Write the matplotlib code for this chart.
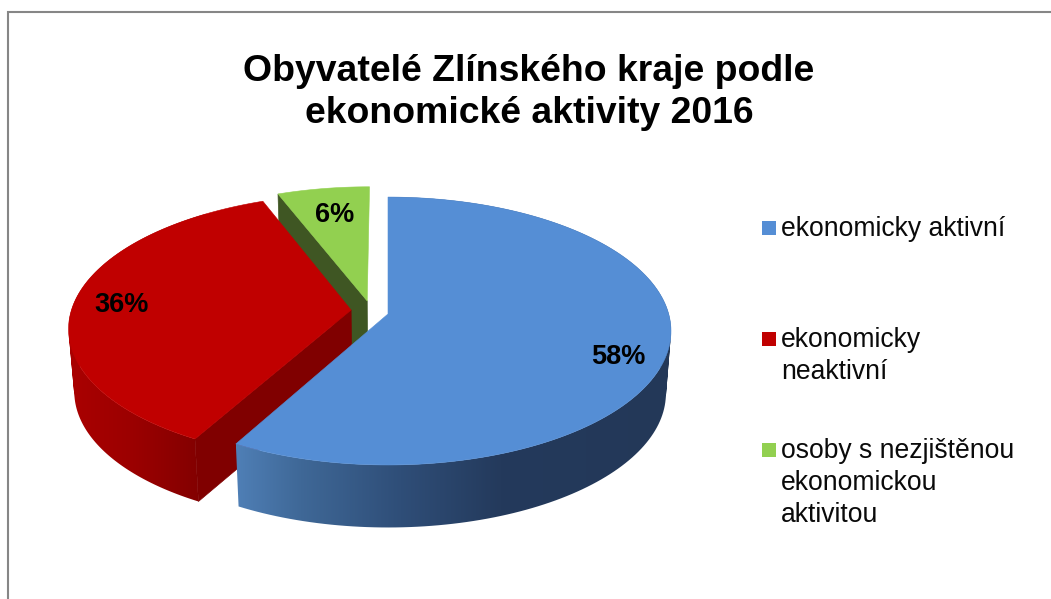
import numpy as np
import matplotlib
matplotlib.use("Agg")
import matplotlib.pyplot as plt
from matplotlib.patches import Polygon, Rectangle, PathPatch
from matplotlib.path import Path
from matplotlib.colors import LinearSegmentedColormap

title = "Obyvatelé Zlínského kraje podle\nekonomické aktivity 2016"
categories = ["ekonomicky aktivní", "ekonomicky\nneaktivní", "osoby s nezjištěnou\nekonomickou\naktivitou"]
values = [58, 36, 6]
value_labels = ["58%", "36%", "6%"]

top_colors = ["#558ed5", "#c00000", "#92d050"]
inner_colors = ["#243a5c", "#800000", "#3f5623"]
# the outer wall of the green slice faces away from the viewer, so it has no stops
side_stops = [
    [(236, "#4f7fb6"), (300, "#3f6897"), (400, "#2f4e78"), (500, "#243a5c"), (671, "#233858")],
    [(69, "#aa0000"), (130, "#9c0000"), (196, "#840000"), (205, "#840000")],
    None,
]
explode = [(0.0, 0.0), (-0.132, 0.03), (-0.075, 0.1)]
label_xy = [(618, 357), (122, 305), (335, 215)]
legend_y = [228, 339, 450]

CX, CY, A, B, K = 388.0, 314.0, 280.7, 131.8, 0.127
DEPTH, SHRINK = 62.5, 0.982

fig = plt.figure(figsize=(10.51, 5.99), dpi=100, facecolor="white")
ax = fig.add_axes([0, 0, 1, 1])
ax.axis("off")
plt.rcParams["font.family"] = ["Liberation Sans"]


def project(u, v):
    d = 1 + K * v
    return CX + A * u / d, CY - B * v / d


def lower(pts):
    pts = np.asarray(pts, float)
    return np.column_stack([CX + (pts[:, 0] - CX) * SHRINK, pts[:, 1] + DEPTH])


def swept_side(rim):
    """Union of the little side quads, all wound the same way."""
    low = lower(rim)
    verts, codes = [], []
    for j in range(len(rim) - 1):
        q = np.array([rim[j], rim[j + 1], low[j + 1], low[j]])
        x, y = q[:, 0], q[:, 1]
        if np.dot(x, np.roll(y, -1)) - np.dot(y, np.roll(x, -1)) < 0:
            q = q[::-1]
        verts += [*q, q[0]]
        codes += [Path.MOVETO, Path.LINETO, Path.LINETO, Path.LINETO, Path.CLOSEPOLY]
    return Path(np.array(verts), codes)


def gradient_side(path, stops, z):
    xs = np.array([s[0] for s in stops], float)
    lo, hi = xs.min(), xs.max()
    cmap = LinearSegmentedColormap.from_list(
        "g", [((x - lo) / (hi - lo), c) for x, c in stops])
    patch = PathPatch(path, fc="none", ec="none", zorder=z)
    ax.add_patch(patch)
    im = ax.imshow(np.linspace(0, 1, 256)[None, :], extent=(lo - 1e-6, hi, 610, 0),
                   cmap=cmap, aspect="auto", zorder=z, vmin=0, vmax=1)
    im.set_clip_path(patch)


fractions = np.cumsum([0] + values) / sum(values) * 2 * np.pi
# far slices are drawn first so the nearer ones cover them
for i in [2, 1, 0]:
    t = np.linspace(fractions[i], fractions[i + 1], 160)
    ou, ov = explode[i]
    rim = np.column_stack(project(ou + np.sin(t), ov + np.cos(t)))
    apex = np.array(project(ou, ov))
    base_z = 2 + (2 - i) * 3
    if side_stops[i] is not None:
        gradient_side(swept_side(rim), side_stops[i], base_z)
    # cut face on the leading edge of the red and green slices
    if i > 0:
        edge = rim[0]
        quad = np.vstack([apex, edge, lower([edge]), lower([apex])])
        ax.add_patch(Polygon(quad, closed=True, fc=inner_colors[i], ec=inner_colors[i],
                             lw=0.5, zorder=base_z + 1))
    ax.add_patch(Polygon(np.vstack([apex, rim]), closed=True, fc=top_colors[i],
                         ec=top_colors[i], lw=0.4, zorder=base_z + 2))

for (x, y), s in zip(label_xy, value_labels):
    ax.text(x, y, s, ha="center", va="center", fontsize=19.5, fontweight="bold",
            color="black", zorder=20)

ax.text(529, 92.5, title, ha="center", va="center", fontsize=26.9, fontweight="bold",
        color="black", linespacing=1.27, zorder=20)

for y, c, s in zip(legend_y, top_colors, categories):
    ax.add_patch(Rectangle((762, y - 7), 14, 14, fc=c, ec="none", zorder=20))
    ax.text(781, y - 12, s, ha="left", va="top", fontsize=19.1, color="#0a0a0a",
            linespacing=1.29, zorder=20)

ax.plot([8, 8, 1051], [599, 12, 12], color="#868686", lw=1.5, solid_joinstyle="miter", zorder=1)
ax.set_xlim(0, 1051)
ax.set_ylim(599, 0)
fig.savefig("out.png", dpi=100, facecolor="white")
